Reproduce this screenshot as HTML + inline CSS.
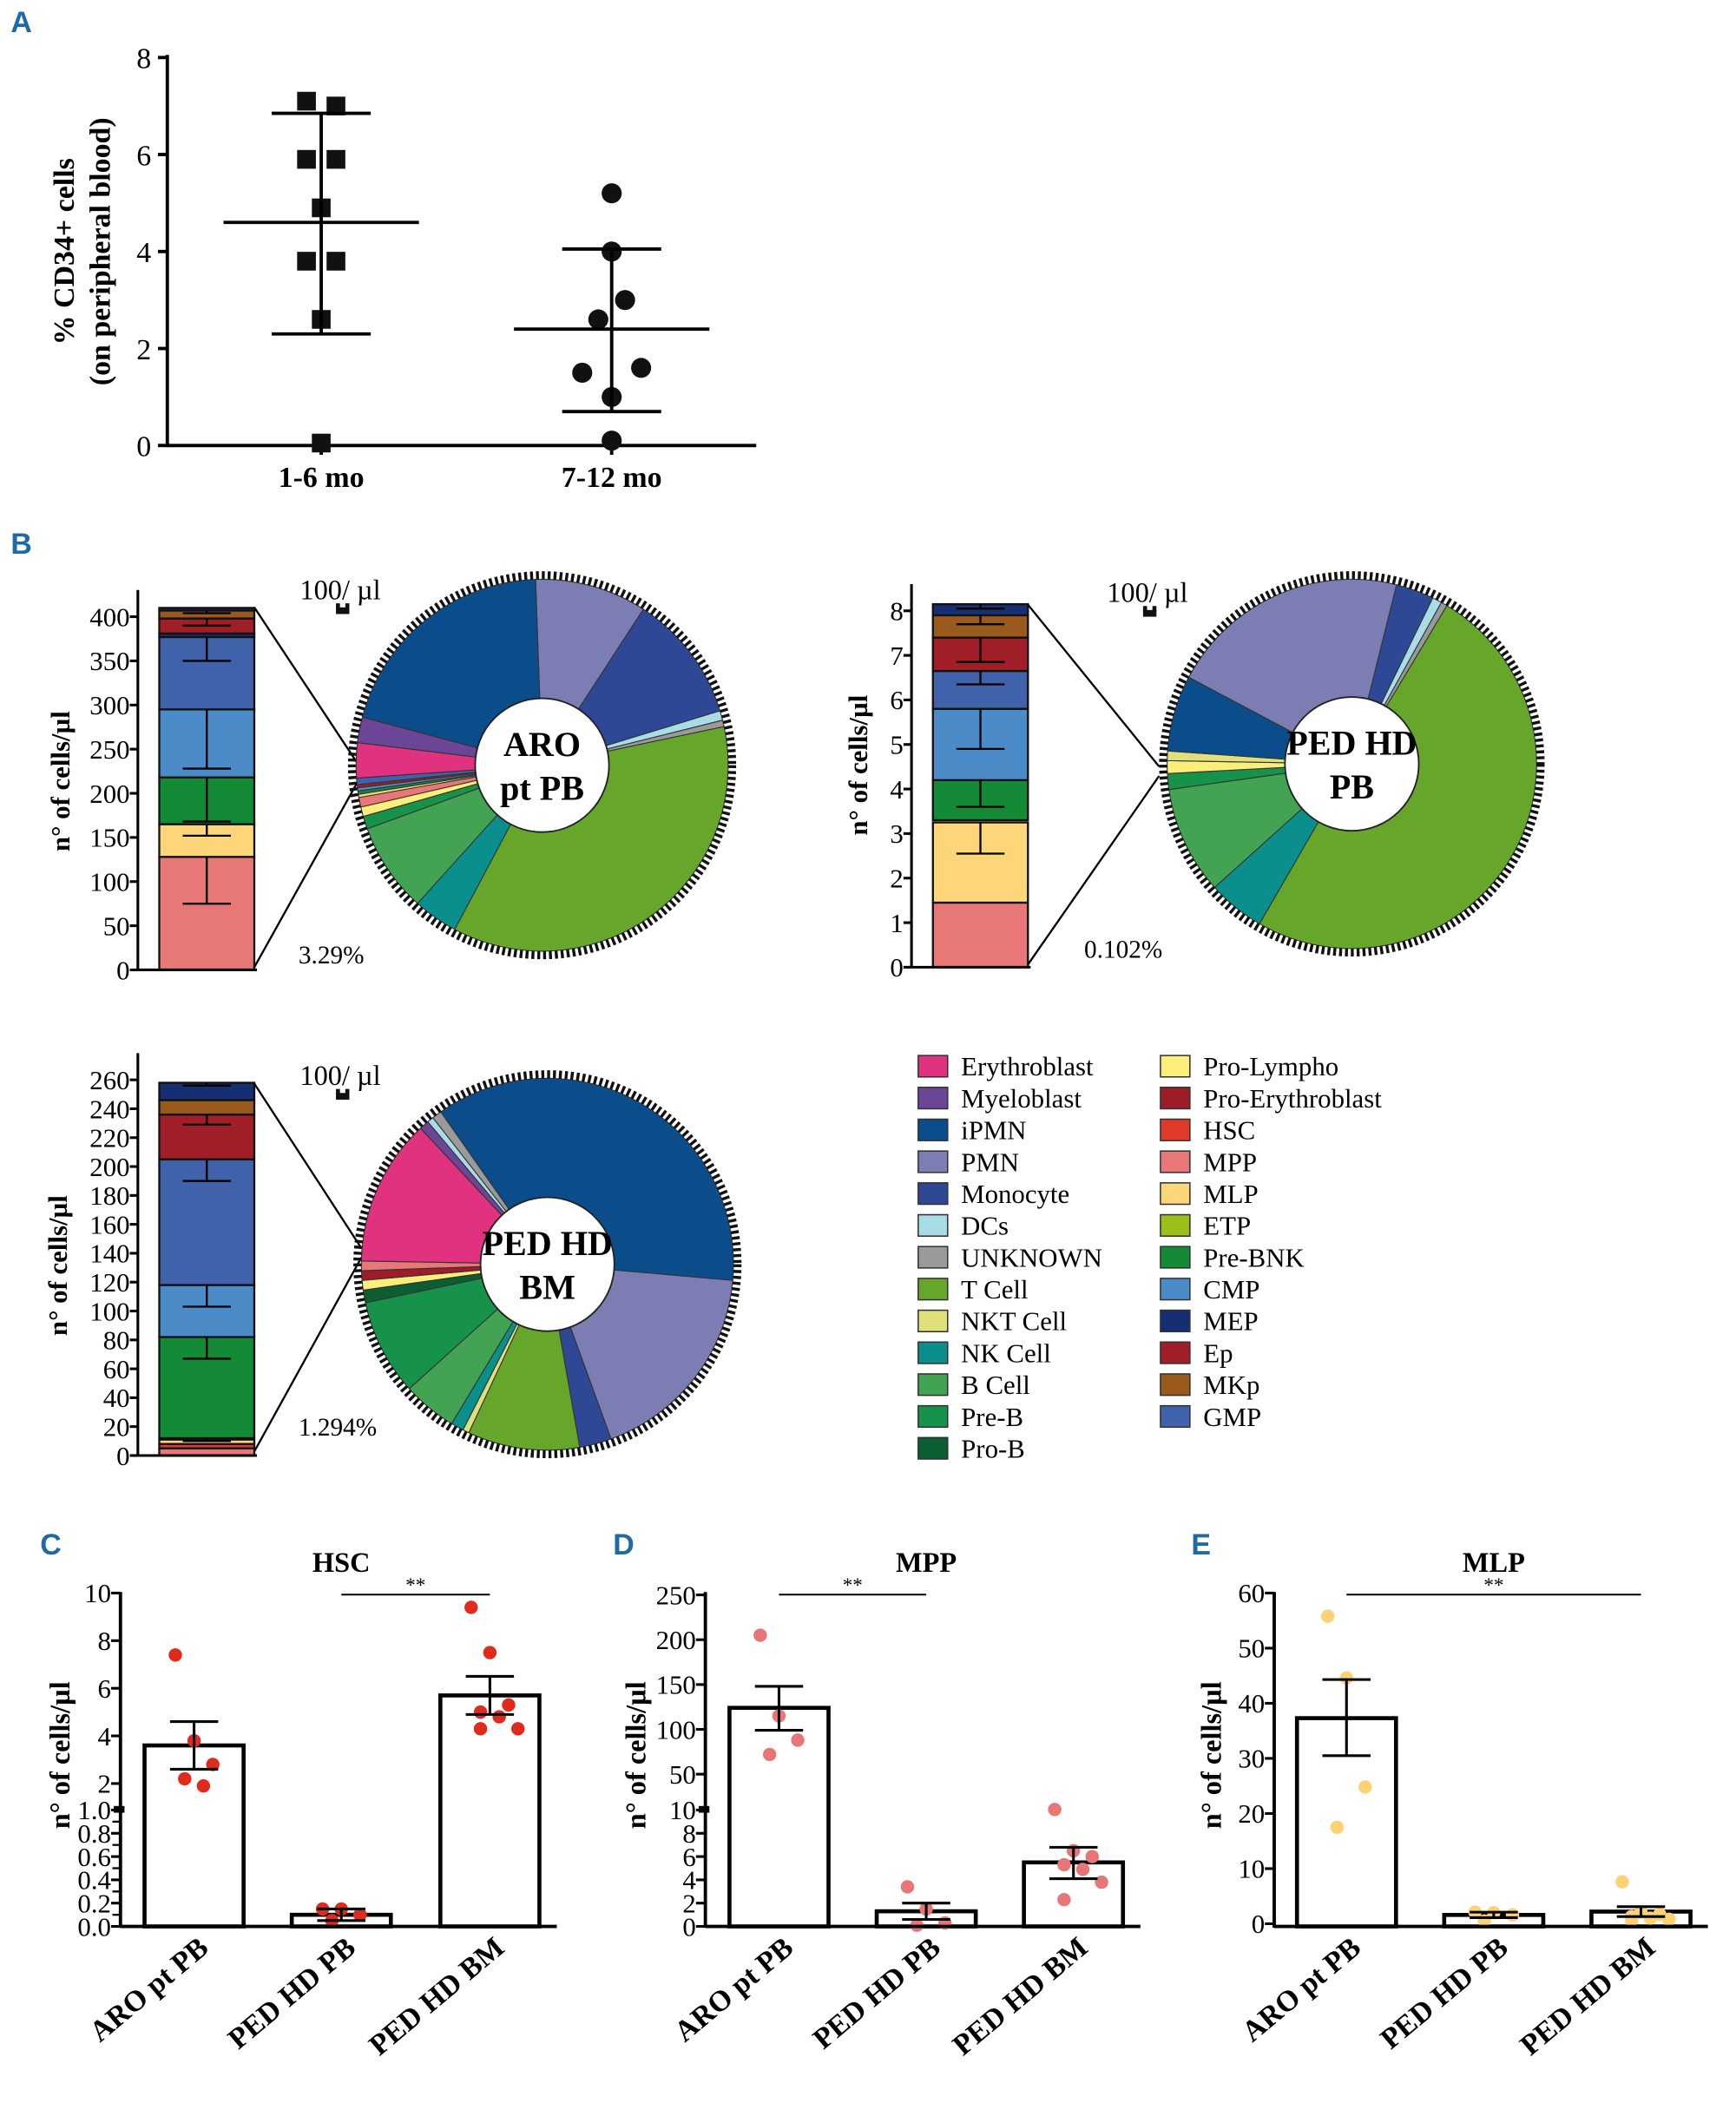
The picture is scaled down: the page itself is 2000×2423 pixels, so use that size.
<!DOCTYPE html>
<html><head><meta charset="utf-8">
<style>
html,body{margin:0;padding:0;background:#fff;}
svg{display:block;}
text{font-family:"Liberation Serif",serif;}
.pl{font-family:"Liberation Sans",sans-serif;font-weight:bold;fill:#1f6aa5;font-size:22px;}
</style></head>
<body>
<svg id="fig" xmlns="http://www.w3.org/2000/svg" width="2000" height="2423" viewBox="0 0 1297 1572" preserveAspectRatio="none">
<text class="pl" x="8" y="24">A</text>
<text class="pl" x="8" y="414">B</text>
<text class="pl" x="30" y="1162">C</text>
<text class="pl" x="458" y="1162">D</text>
<text class="pl" x="890" y="1162">E</text>
</svg>
<script>
// ---------- Panel A data ----------
const aGroups = ["1-6 mo","7-12 mo"];
const aVals1 = [7.1,7.0,5.9,5.9,4.9,3.8,3.8,2.6,0.05];
const aVals2 = [5.2,4.0,3.0,2.6,1.5,1.6,1.0,0.1];
const aMean = [4.6,2.4];
const aSdHi = [6.85,4.05];
const aSdLo = [2.3,0.7];
const aTicks = [0,2,4,6,8];
// ---------- Panel B data ----------
const cellTypes = ["Erythroblast","Myeloblast","iPMN","PMN","Monocyte","DCs","UNKNOWN","T Cell","NKT Cell","NK Cell","B Cell","Pre-B","Pro-B","Pro-Lympho","Pro-Erythroblast","HSC","MPP","MLP","ETP","Pre-BNK","CMP","MEP","Ep","MKp","GMP"];
const cellColors = {"Erythroblast":"#e0327f","Myeloblast":"#6b4596","iPMN":"#0a4d8a","PMN":"#7b7db3","Monocyte":"#2e4896","DCs":"#a8dce6","UNKNOWN":"#9a9a9a","T Cell":"#66a62a","NKT Cell":"#dfe07a","NK Cell":"#0a8f8c","B Cell":"#42a352","Pre-B":"#17924a","Pro-B":"#0b5e32","Pro-Lympho":"#fcee7a","Pro-Erythroblast":"#9c1c28","HSC":"#e03a2a","MPP":"#e87878","MLP":"#fdd67a","ETP":"#9cbf1a","Pre-BNK":"#148a36","CMP":"#4b8bc8","MEP":"#152f72","Ep":"#a01e28","MKp":"#9a5a1e","GMP":"#4062aa"};
const bar1 = [["MPP",0,128],["MLP",128,165],["Pre-BNK",165,218],["CMP",218,295],["GMP",295,377],["MEP",377,381],["Ep",381,398],["MKp",398,407],["MEP",407,410]];
const bar1Err = [[128,75],[165,152],[218,168],[295,228],[377,350],[398,390],[407,404]];
const bar2 = [["MPP",0,1.45],["MLP",1.45,3.25],["Pre-BNK",3.3,4.2],["CMP",4.2,5.8],["GMP",5.8,6.65],["Ep",6.65,7.4],["MKp",7.4,7.9],["MEP",7.9,8.15]];
const bar2Err = [[3.25,2.55],[4.2,3.6],[5.8,4.9],[6.65,6.35],[7.4,6.85],[7.9,7.7],[8.15,8.05]];
const bar3 = [["MPP",0,5],["HSC",5,8],["MLP",8,11],["Pre-BNK",12,82],["CMP",82,118],["GMP",118,205],["Ep",205,236],["MKp",236,246],["MEP",246,258]];
const bar3Err = [[12,10],[82,67],[118,103],[205,190],[236,229],[258,256]];
const pie1 = [["PMN",-2,33],["Monocyte",33,73],["DCs",73,76],["UNKNOWN",76,78],["T Cell",78,208],["NK Cell",208,222],["B Cell",222,250],["Pre-B",250,254],["Pro-Lympho",254,257],["MPP",257,260],["MLP",260,261],["Pre-BNK",261,262],["CMP",262,263],["Pro-Erythroblast",263,264],["GMP",264,266],["Erythroblast",266,277],["Myeloblast",277,285],["iPMN",285,358]];
const pie2 = [["Monocyte",14,26],["DCs",26,29],["UNKNOWN",29,31],["T Cell",31,210],["NK Cell",210,228],["B Cell",228,262],["Pre-B",262,267],["Pro-Lympho",267,271],["NKT Cell",271,274],["iPMN",274,298],["PMN",298,374]];
const pie3 = [["iPMN",-35,95],["PMN",95,160],["Monocyte",160,170],["T Cell",170,205],["NKT Cell",205,207],["NK Cell",207,211],["B Cell",211,228],["Pre-B",228,258],["Pro-B",258,262],["Pro-Lympho",262,265],["Pro-Erythroblast",265,268],["MPP",268,271],["Erythroblast",271,317],["Myeloblast",317,320],["DCs",320,322],["UNKNOWN",322,325]];
// ---------- Panels C-E data ----------
const cdeCats = ["ARO pt PB","PED HD PB","PED HD BM"];
const hscMeans = [3.6,0.1,5.7];
const hscSem = [[2.6,4.6],[0.05,0.15],[4.9,6.5]];
const hscPts = [[7.4,3.8,2.8,2.2,1.9],[0.15,0.15,0.1,0.05],[9.4,7.5,5.3,5.0,4.8,4.3,4.3]];
const mppMeans = [124,1.3,5.5];
const mppSem = [[99,148],[0.6,2.0],[4.1,6.8]];
const mppPts = [[205,115,88,72],[3.4,1.5,0.3,0.1],[10.6,6.5,6.0,5.3,4.9,3.8,2.3]];
const mlpMeans = [37.3,1.6,2.2];
const mlpSem = [[30.5,44.3],[1.1,2.1],[1.3,3.1]];
const mlpPts = [[55.8,44.6,24.8,17.5],[2.1,2.0,1.6,0.5],[7.6,2.1,1.7,1.3,1.0,0.8,0.6]];

const NS="http://www.w3.org/2000/svg";
const svg=document.getElementById('fig');
function mk(tag,attrs,parent){const e=document.createElementNS(NS,tag);for(const k in attrs)e.setAttribute(k,attrs[k]);(parent||svg).appendChild(e);return e;}
function txt(x,y,s,size,opts,parent){const o=Object.assign({x:x,y:y,'font-size':size},opts||{});const e=mk('text',o,parent);e.textContent=s;return e;}
function line(x1,y1,x2,y2,w,parent){return mk('line',{x1:x1,y1:y1,x2:x2,y2:y2,stroke:'#000','stroke-width':w||2},parent);}

// ================= Panel A =================
(function(){
 const g=mk('g',{});
 
 
 const y=v=>333-v*36.25;
 const xc=[240,457];
 line(125,41,125,334,2.5,g); line(124,333,565,333,2.5,g);
 aTicks.forEach(t=>{line(118,y(t),125,y(t),2.5,g);const e=txt(113,y(t)+8,String(t),22,{'text-anchor':'end'},g);
  });
 xc.forEach((c,i)=>{line(c,333,c,340,2.5,g);const e=txt(c,364,aGroups[i],22,{'text-anchor':'middle','font-weight':'bold'},g);
  });
 const t1=txt(0,0,"% CD34+ cells",22,{'font-weight':'bold','text-anchor':'middle',transform:'translate(55,188) rotate(-90)'},g);
 
 const t2=txt(0,0,"(on peripheral blood)",22,{'font-weight':'bold','text-anchor':'middle',transform:'translate(82,188) rotate(-90)'},g);
 
 const off1=[-11,11,-11,11,0,-11,11,0,0];
 const off2=[0,0,10,-10,-22,22,0,0];
 aVals1.forEach((v,i)=>{const r=mk('rect',{x:xc[0]+off1[i]-7,y:y(v)-7,width:14,height:14,fill:'#111'},g);
  });
 aVals2.forEach((v,i)=>{const c=mk('circle',{cx:xc[1]+off2[i],cy:y(v),r:7.5,fill:'#111'},g);
  });
 [0,1].forEach(i=>{const c=xc[i];
  line(c-73,y(aMean[i]),c+73,y(aMean[i]),2.5,g);
  line(c,y(aSdHi[i]),c,y(aSdLo[i]),2.5,g);
  line(c-37,y(aSdHi[i]),c+37,y(aSdHi[i]),2.5,g);
  line(c-37,y(aSdLo[i]),c+37,y(aSdLo[i]),2.5,g);});
})();

// ================= Panel B =================
function stackBar(name,axX,y0,pxPer,ticks,segs,errs,bx,bw){
 const g=mk('g',{});
 
 
 const y=v=>y0-v*pxPer;
 segs.forEach(s=>{const r=mk('rect',{x:bx,y:y(s[2]),width:bw,height:(s[2]-s[1])*pxPer,fill:cellColors[s[0]],stroke:'#111','stroke-width':1.5},g);
  });
 const cx=bx+bw/2;
 errs.forEach(e=>{line(cx,y(e[0]),cx,y(e[1]),1.5,g);line(cx-18,y(e[1]),cx+18,y(e[1]),1.5,g);});
 const top=y(ticks[ticks.length-1])-20;
 line(axX,top,axX,y0,2,g);line(axX,y0,bx+bw+2,y0,2,g);
 ticks.forEach(t=>{line(axX-6,y(t),axX,y(t),2,g);const e=txt(axX-6,y(t)+7,String(t),20,{'text-anchor':'end','font-family':'Liberation Sans Narrow, Liberation Sans, sans-serif'},g);
  });
 return g;
}
function pie(name,cx,cy,r,slices,label){
 const g=mk('g',{});
 
 
 const pt=(a,rr)=>[cx+rr*Math.sin(a*Math.PI/180),cy-rr*Math.cos(a*Math.PI/180)];
 slices.forEach(s=>{const p1=pt(s[1],r),p2=pt(s[2],r);const large=(s[2]-s[1])>180?1:0;
  const p=mk('path',{d:`M${cx},${cy} L${p1[0]},${p1[1]} A${r},${r} 0 ${large} 1 ${p2[0]},${p2[1]} Z`,fill:cellColors[s[0]],stroke:'#333','stroke-width':0.7},g);
  });
 mk('circle',{cx:cx,cy:cy,r:r+3,fill:'none',stroke:'#111','stroke-width':6,'stroke-dasharray':'2.2 2.2'},g);
 mk('circle',{cx:cx,cy:cy,r:50,fill:'#fff',stroke:'#222','stroke-width':1.2},g);
 const t=txt(cx,cy-7,label[0],26,{'text-anchor':'middle','font-weight':'bold'},g);
 
 txt(cx,cy+26,label[1],26,{'text-anchor':'middle','font-weight':'bold'},g);
 return g;
}
function unitLabel(x,y){txt(x,y,"100/ µl",21,{});mk('rect',{x:x+27,y:y+6,width:10,height:5,fill:'#111'});mk('rect',{x:x+27,y:y+3,width:3,height:4,fill:'#111'});mk('rect',{x:x+34,y:y+3,width:3,height:4,fill:'#111'});}
function yTitle(x,y,s){const e=txt(0,0,s,20,{'font-weight':'bold','text-anchor':'middle',transform:`translate(${x},${y}) rotate(-90)`});return e;}

stackBar('aro-stacked-bar',103,725,0.66,[0,50,100,150,200,250,300,350,400],bar1,bar1Err,119,71);
yTitle(52,584,"n° of cells/µl");
line(190,454,268,572,1.5);line(190,723,268,583,1.5);
txt(223,720,"3.29%",19,{});unitLabel(224,448);
pie('aro-pie',405,572,139,pie1,["ARO","pt PB"]);

stackBar('ped-pb-stacked-bar',681,723,33.3,[0,1,2,3,4,5,6,7,8],bar2,bar2Err,697,71);
yTitle(648,572,"n° of cells/µl");
line(768,452,866,573,1.5);line(768,721,866,580,1.5);
txt(810,716,"0.102%",19,{});unitLabel(827,450);
pie('ped-pb-pie',1010,571,138,pie2,["PED HD","PB"]);

stackBar('ped-bm-stacked-bar',103,1088,1.08,[0,20,40,60,80,100,120,140,160,180,200,220,240,260],bar3,bar3Err,119,71);
yTitle(50,946,"n° of cells/µl");
line(190,810,270,933,1.5);line(190,1085,270,940,1.5);
txt(223,1073,"1.294%",19,{});unitLabel(224,811);
pie('ped-bm-pie',409,945,139,pie3,["PED HD","BM"]);

// legend
(function(){
 const g=mk('g',{});
 
 
 cellTypes.forEach((c,i)=>{const col=i<13?0:1;const row=i<13?i:i-13;const x=col?867:686;const y=789+row*23.8;
  const r=mk('rect',{x:x,y:y,width:22,height:16,fill:cellColors[c],stroke:'#333','stroke-width':1},g);
  
  const t=txt(x+32,y+15,c,20,{},g);
  });
})();

// ================= Panels C-E =================
function barPanel(name,title,axX,centers,yfn,ticks,means,sem,pts,color,sig,titleX,yTitleX){
 const g=mk('g',{});
 
 
 const t=txt(titleX,1175,title,21,{'text-anchor':'middle','font-weight':'bold'},g);
 
 centers.forEach((c,i)=>{const r=mk('rect',{x:c-37,y:yfn(means[i]),width:74,height:1440-yfn(means[i]),fill:'#fff',stroke:'#000','stroke-width':3},g);
  });
 centers.forEach((c,i)=>{pts[i].forEach((v,j)=>{const n=pts[i].length;const dx=n>1?((j%3)-1)*14+(j>=3?7:0):0;
   const p=mk('circle',{cx:c+dx,cy:yfn(v),r:5,fill:color},g);
   });
  line(c,yfn(sem[i][0]),c,yfn(sem[i][1]),2,g);
  line(c-18,yfn(sem[i][0]),c+18,yfn(sem[i][0]),2,g);line(c-18,yfn(sem[i][1]),c+18,yfn(sem[i][1]),2,g);});
 line(axX,1190,axX,1441,2.5,g);line(axX,1440,centers[2]+50,1440,2.5,g);
 ticks.forEach(tk=>{line(axX-7,yfn(tk),axX,yfn(tk),2,g);const e=txt(axX-7,yfn(tk)+7,String(tk),20,{'text-anchor':'end','font-family':'Liberation Sans Narrow, Liberation Sans, sans-serif'},g);
  });
 centers.forEach((c,i)=>{const e=txt(0,0,cdeCats[i],22,{'font-weight':'bold','text-anchor':'end',transform:`translate(${c+12},${1458}) rotate(-40)`},g);
  });
 const yt=txt(0,0,"n° of cells/µl",21,{'font-weight':'bold','text-anchor':'middle',transform:`translate(${yTitleX},1312) rotate(-90)`},g);
 
 line(centers[sig[0]],1192,centers[sig[1]],1192,1.3,g);
 txt((centers[sig[0]]+centers[sig[1]])/2,1190,"**",15,{'text-anchor':'middle'},g);
 return g;
}
const yHSC=v=>v<=1?1440-v*87:1351-(v-1)*17.8;
const gC=barPanel('panel-c-hsc',"HSC",90,[145,255,366],yHSC,[0.0,0.2,0.4,0.6,0.8,1.0,2,4,6,8,10],hscMeans,hscSem,hscPts,'#e02a1c',[1,2],255,52);
[0.1,0.3,0.5,0.7,0.9].forEach(v=>line(84,yHSC(v),90,yHSC(v),1.5,gC));
gC.querySelectorAll('text').forEach(t=>{const m={'0':'0.0','1':'1.0'};if(m[t.textContent])t.textContent=m[t.textContent];});
mk('rect',{x:85,y:1350,width:8,height:5,fill:'#000'},gC);
const yMPP=v=>v<=10?1440-v*8.7:1353-(v-10)*0.67;
const gD=barPanel('panel-d-mpp',"MPP",527,[582,692,802],yMPP,[0,2,4,6,8,10,50,100,150,200,250],mppMeans,mppSem,mppPts,'#e87676',[0,1],692,482);
mk('rect',{x:522,y:1350,width:8,height:5,fill:'#000'},gD);
const yMLP=v=>1438-v*4.12;
barPanel('panel-e-mlp',"MLP",952,[1006,1116,1226],yMLP,[0,10,20,30,40,50,60],mlpMeans,mlpSem,mlpPts,'#fcd275',[0,2],1116,912);
</script>
</body></html>
